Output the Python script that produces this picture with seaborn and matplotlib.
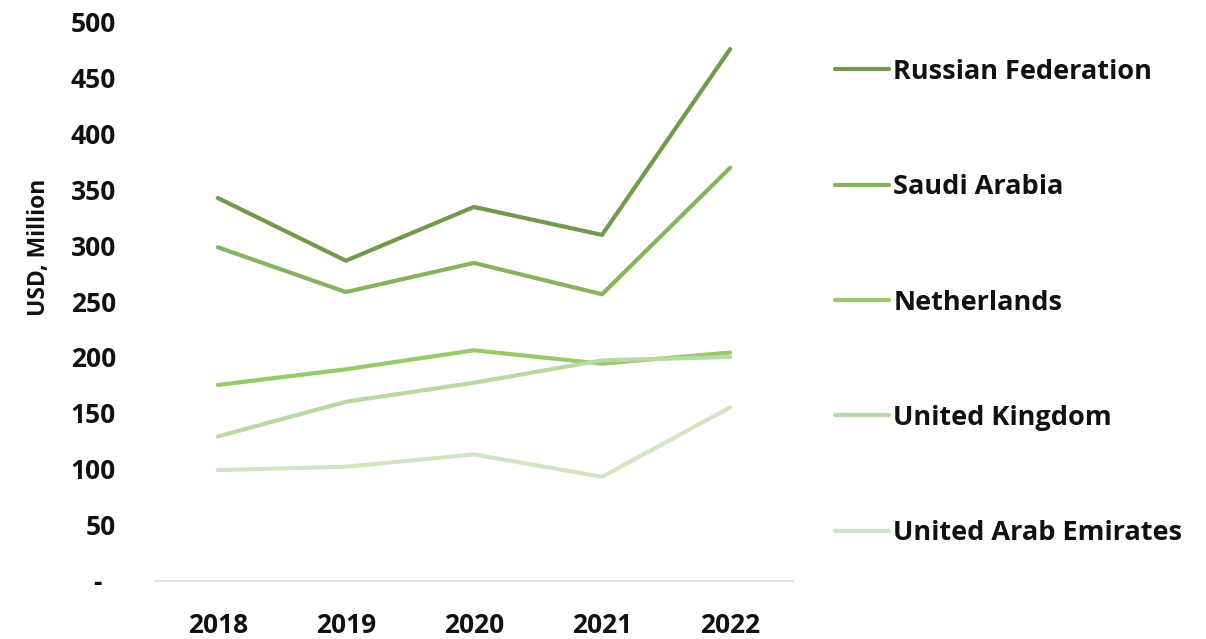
import matplotlib
matplotlib.use("Agg")
import matplotlib.pyplot as plt
import seaborn as sns
import pandas as pd

# Import values by partner country, USD million
years = ["2018", "2019", "2020", "2021", "2022"]
countries = ["Russian Federation", "Saudi Arabia", "Netherlands",
             "United Kingdom", "United Arab Emirates"]
russia = [342, 286, 334, 309, 475]
saudi = [298, 258, 284, 256, 369]
netherlands = [175, 189, 206, 194, 204]
uk = [129, 160, 177, 197, 200]
uae = [99, 102, 113, 93, 155]
colors = ["#719A4C", "#86B45E", "#99C96A", "#B8D9A1", "#D1E5C3"]

series = [russia, saudi, netherlands, uk, uae]
df = pd.DataFrame({
    "year": [y for _ in countries for y in years],
    "country": [c for c in countries for _ in years],
    "value": [v for s in series for v in s],
})
df["x"] = df["year"].map({y: i for i, y in enumerate(years)})

sns.set_theme(style="white")
plt.rcParams["font.family"] = ["Open Sans", "DejaVu Sans"]
plt.rcParams["font.weight"] = "bold"

fig = plt.figure(figsize=(12.06, 6.39), dpi=100)
ax = fig.add_axes([0.1285, 0.0908, 0.529, 0.8763])

sns.lineplot(data=df, x="x", y="value", hue="country", hue_order=countries,
             palette=colors, linewidth=3.0, ax=ax, legend=False,
             solid_capstyle="round")
for line in ax.get_lines():
    line.set_solid_joinstyle("round")

ax.set_xlim(-0.49, 4.49)
ax.set_ylim(0, 500)
ax.set_xticks(range(len(years)))
ax.set_xticklabels(years)
ax.set_yticks(range(0, 501, 50))
# accounting-style zero: a dash set in from the right edge
ax.set_yticklabels(["-  "] + [str(v) for v in range(50, 501, 50)])
ax.tick_params(axis="x", length=0, pad=22, labelsize=19, colors="#111111")
ax.tick_params(axis="y", length=0, pad=28, labelsize=19, colors="#111111")
for lbl in ax.get_xticklabels() + ax.get_yticklabels():
    lbl.set_fontweight("bold")

for side in ["top", "right", "left"]:
    ax.spines[side].set_visible(False)
ax.spines["bottom"].set_color("#D9D9D9")
ax.spines["bottom"].set_linewidth(1.2)

ax.set_xlabel("")
ax.set_ylabel("USD, Million", fontsize=16.5, fontweight="bold", color="#111111")
ax.yaxis.set_label_coords(-0.163, 0.596)

handles = [plt.Line2D([0], [0], color=c, linewidth=3.0, solid_capstyle="round")
           for c in colors]
leg = fig.legend(handles, countries, loc="center left",
                 bbox_to_anchor=(0.6924, 0.5265), frameon=False,
                 fontsize=19.5, handlelength=2.0, handletextpad=0.15,
                 labelspacing=3.3, borderpad=0, borderaxespad=0)
for t in leg.get_texts():
    t.set_fontweight("bold")
    t.set_color("#111111")

fig.savefig("out.png", dpi=100)
